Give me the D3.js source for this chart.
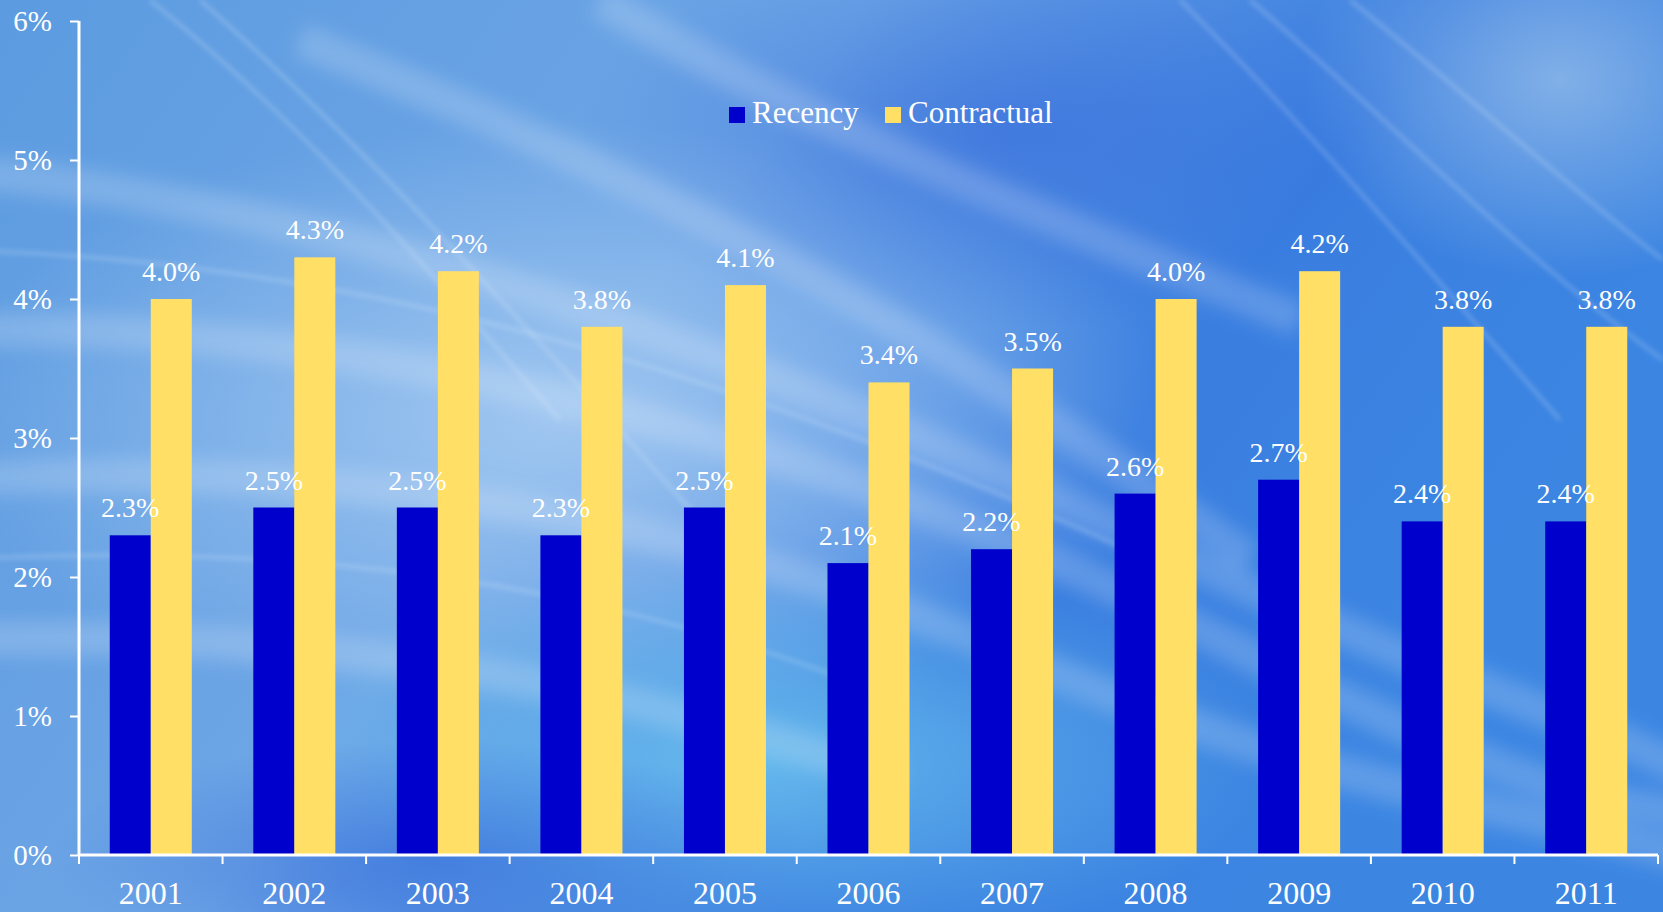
<!DOCTYPE html>
<html>
<head>
<meta charset="utf-8">
<script src="https://cdn.jsdelivr.net/npm/d3@7"></script>
<style>
  html, body { margin: 0; padding: 0; overflow: hidden; }
  svg { display: block; font-family: "Liberation Serif", "DejaVu Serif", serif; }
</style>
</head>
<body>
<div id="chart"></div>
<script>
var years = ["2001", "2002", "2003", "2004", "2005", "2006", "2007", "2008", "2009", "2010", "2011"];
var seriesNames = ["Recency", "Contractual"];
var recency = [2.3, 2.5, 2.5, 2.3, 2.5, 2.1, 2.2, 2.6, 2.7, 2.4, 2.4];
var contractual = [4.0, 4.3, 4.2, 3.8, 4.1, 3.4, 3.5, 4.0, 4.2, 3.8, 3.8];
var yTicks = [0, 1, 2, 3, 4, 5, 6];
var colors = ["#0000cc", "#ffdf66"];

var WIDTH = 1663, HEIGHT = 912;
var margin = {top: 21, right: 5, bottom: 57, left: 79};

var svg = d3.select("#chart").append("svg")
    .attr("width", WIDTH)
    .attr("height", HEIGHT);

// background: blue gradient with soft light streaks
var defs = svg.append("defs");
var bg = defs.append("linearGradient").attr("id", "bg")
    .attr("x1", "0").attr("y1", "0").attr("x2", "1").attr("y2", "0.4");
bg.append("stop").attr("offset", "0").attr("stop-color", "#5c9be0");
bg.append("stop").attr("offset", "0.45").attr("stop-color", "#6ea6e6");
bg.append("stop").attr("offset", "0.75").attr("stop-color", "#3a7ee0");
bg.append("stop").attr("offset", "1").attr("stop-color", "#3c86e2");

function radial(id, c, o){
  var g = defs.append("radialGradient").attr("id", id);
  g.append("stop").attr("offset", "0").attr("stop-color", c).attr("stop-opacity", o);
  g.append("stop").attr("offset", "1").attr("stop-color", c).attr("stop-opacity", 0);
}
radial("glow1", "#a8ccf2", 0.85);
radial("glow2", "#6cc4ef", 0.8);
radial("glow3", "#a0c4ea", 0.7);
radial("dark1", "#2a5ed8", 0.5);

defs.append("filter").attr("id", "blur")
    .attr("x", "-20%").attr("y", "-20%").attr("width", "140%").attr("height", "140%")
    .append("feGaussianBlur").attr("stdDeviation", 9);
defs.append("filter").attr("id", "blur2")
    .append("feGaussianBlur").attr("stdDeviation", 2.5);

var back = svg.append("g");
back.append("rect").attr("width", WIDTH).attr("height", HEIGHT).attr("fill", "url(#bg)");
back.append("ellipse").attr("cx", 560).attr("cy", 420).attr("rx", 620).attr("ry", 300)
    .attr("fill", "url(#glow1)");
back.append("ellipse").attr("cx", 760).attr("cy", 760).attr("rx", 520).attr("ry", 200)
    .attr("fill", "url(#glow2)");
back.append("ellipse").attr("cx", 1560).attr("cy", 80).attr("rx", 260).attr("ry", 200)
    .attr("fill", "url(#glow3)");
back.append("ellipse").attr("cx", 1000).attr("cy", 130).attr("rx", 420).attr("ry", 200)
    .attr("fill", "url(#dark1)");
back.append("ellipse").attr("cx", 430).attr("cy", 860).attr("rx", 380).attr("ry", 120)
    .attr("fill", "url(#dark1)");

// wide soft bands
var bands = [
  "M-50,170 C300,200 700,330 1100,520 S1600,720 1700,780",
  "M-50,330 C350,320 800,430 1200,630 S1600,790 1700,820",
  "M-50,480 C300,460 650,500 1000,650 S1500,800 1700,860",
  "M300,40 C600,160 900,300 1250,560",
  "M600,0 C800,120 1000,200 1300,320",
  "M-50,640 C250,630 550,660 900,780"
];
back.selectAll("path.band")
    .data(bands).enter().append("path")
    .attr("class", "band")
    .attr("d", function(d){ return d; })
    .attr("fill", "none")
    .attr("stroke", "#ffffff")
    .attr("stroke-opacity", 0.18)
    .attr("stroke-width", 34)
    .attr("filter", "url(#blur)");

// thin bright streaks
var streaks = [
  "M150,0 C300,120 420,260 560,420",
  "M200,0 C360,140 520,320 700,520",
  "M-50,250 C400,260 800,400 1150,560",
  "M1180,0 C1300,120 1420,260 1560,420",
  "M1250,0 C1380,110 1500,240 1663,360",
  "M1350,0 C1450,80 1560,180 1663,260",
  "M-50,560 C300,540 600,580 900,700"
];
back.selectAll("path.thin")
    .data(streaks).enter().append("path")
    .attr("class", "thin")
    .attr("d", function(d){ return d; })
    .attr("fill", "none")
    .attr("stroke", "#e8f4ff")
    .attr("stroke-opacity", 0.28)
    .attr("stroke-width", 3)
    .attr("filter", "url(#blur2)");

// scales
var x0 = d3.scaleBand()
    .domain(years)
    .range([margin.left, WIDTH - margin.right])
    .paddingInner(0).paddingOuter(0);

var barW = x0.bandwidth() / 3.5;
var x1 = d3.scaleBand()
    .domain(seriesNames)
    .range([(x0.bandwidth() - 2 * barW) / 2, (x0.bandwidth() + 2 * barW) / 2]);

var y = d3.scaleLinear()
    .domain([0, 6])
    .range([HEIGHT - margin.bottom, margin.top]);

var rows = years.map(function(yr, i){
  return {year: yr, values: [
    {key: "Recency", value: recency[i]},
    {key: "Contractual", value: contractual[i]}
  ]};
});

// bars
var groups = svg.append("g").selectAll("g")
    .data(rows).enter().append("g")
    .attr("transform", function(d){ return "translate(" + x0(d.year) + ",0)"; });

groups.selectAll("rect")
    .data(function(d){ return d.values; })
    .enter().append("rect")
    .attr("x", function(d){ return x1(d.key); })
    .attr("y", function(d){ return y(d.value); })
    .attr("width", x1.bandwidth())
    .attr("height", function(d){ return y(0) - y(d.value); })
    .attr("fill", function(d, i){ return colors[i]; });

groups.selectAll("text")
    .data(function(d){ return d.values; })
    .enter().append("text")
    .attr("x", function(d){ return x1(d.key) + x1.bandwidth() / 2; })
    .attr("y", function(d){ return y(d.value) - 18; })
    .attr("text-anchor", "middle")
    .attr("fill", "#ffffff")
    .attr("font-size", "28px")
    .text(function(d){ return d.value.toFixed(1) + "%"; });

// axes
var yAxis = svg.append("g")
    .attr("transform", "translate(" + margin.left + ",0)")
    .call(d3.axisLeft(y).tickValues(yTicks).tickSize(9).tickPadding(18)
      .tickFormat(function(d){ return d + "%"; }));

var xAxis = svg.append("g")
    .attr("transform", "translate(0," + y(0) + ")")
    .call(d3.axisBottom(x0).tickSize(0).tickPadding(26));

// tick marks between categories on x axis
xAxis.selectAll("line.sep")
    .data(d3.range(years.length + 1)).enter().append("line")
    .attr("class", "sep")
    .attr("x1", function(i){ return margin.left + i * x0.step(); })
    .attr("x2", function(i){ return margin.left + i * x0.step(); })
    .attr("y1", 0).attr("y2", 9)
    .attr("stroke", "#ffffff").attr("stroke-width", 2);

[yAxis, xAxis].forEach(function(ax){
  ax.select(".domain").attr("stroke", "#ffffff").attr("stroke-width", 3);
  ax.selectAll(".tick line").attr("stroke", "#ffffff").attr("stroke-width", 2);
  ax.selectAll(".tick text").attr("fill", "#ffffff")
    .attr("font-family", "Liberation Serif, DejaVu Serif, serif")
    .attr("font-size", "29px");
});
xAxis.selectAll(".tick text").attr("font-size", "32px");
yAxis.select(".domain").attr("d", "M0," + y(6) + "V" + y(0));
xAxis.select(".domain").attr("d", "M" + margin.left + ",0H" + (WIDTH - margin.right));

// legend
var legend = svg.append("g").attr("transform", "translate(729,107)");
var legendX = [0, 156];
seriesNames.forEach(function(name, i){
  var item = legend.append("g").attr("transform", "translate(" + legendX[i] + ",0)");
  item.append("rect").attr("width", 16).attr("height", 16).attr("fill", colors[i]);
  item.append("text").attr("x", 23).attr("y", 16)
    .attr("fill", "#ffffff").attr("font-size", "31px")
    .text(name);
});
</script>
</body>
</html>
